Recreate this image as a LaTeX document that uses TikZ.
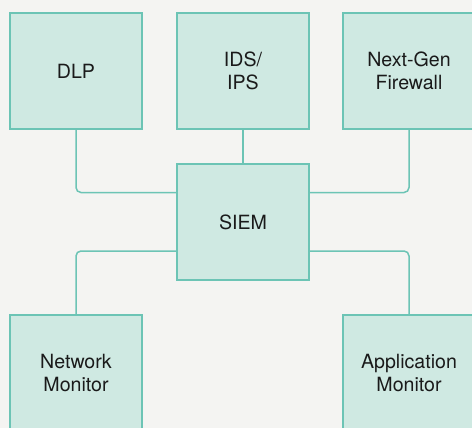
\documentclass[tikz,border=0pt]{standalone}
\usepackage{fontspec}
\setmainfont{TeX Gyre Heros}
\definecolor{bgcol}{HTML}{F4F4F2}
\definecolor{boxfill}{HTML}{CFE9E2}
\definecolor{boxline}{HTML}{6CC4B5}
\definecolor{txtcol}{HTML}{1A1A1A}
\tikzset{
  unit/.style={draw=boxline, fill=boxfill, line width=2.2pt,
    minimum width=132pt, minimum height=116pt, inner sep=0pt,
    align=center, text=txtcol, font=\fontsize{19.6}{22.5}\selectfont},
  link/.style={draw=boxline, line width=1.5pt, rounded corners=5pt}
}
\begin{document}
\begin{tikzpicture}[x=1pt,y=-1pt]
  % canvas
  \fill[bgcol] (0,0) rectangle (472,428);
  \useasboundingbox (0,0) rectangle (472,428);
  \begin{scope}
    \clip (0,0) rectangle (472,428);
    % attachment points on the sides of the SIEM box
    \coordinate (ul) at (176,192.5);
    \coordinate (ur) at (310,192.5);
    \coordinate (ll) at (176,251);
    \coordinate (lr) at (310,251);
    % units
    \node[unit] (dlp)  at (76,71)   {DLP};
    \node[unit] (ids)  at (243,71)  {IDS/\\IPS};
    \node[unit] (fw)   at (409,71)  {Next-Gen\\Firewall};
    \node[unit] (siem) at (243,222) {SIEM};
    \node[unit] (net)  at (76,373)  {Network\\Monitor};
    \node[unit] (app)  at (409,373) {Application\\Monitor};
    % connectors
    \draw[link] (dlp.south) |- (ul);
    \draw[link] (fw.south) |- (ur);
    \draw[link] (net.north) |- (ll);
    \draw[link] (app.north) |- (lr);
    \draw[link] (ids.south) -- (siem.north);
  \end{scope}
\end{tikzpicture}
\end{document}
